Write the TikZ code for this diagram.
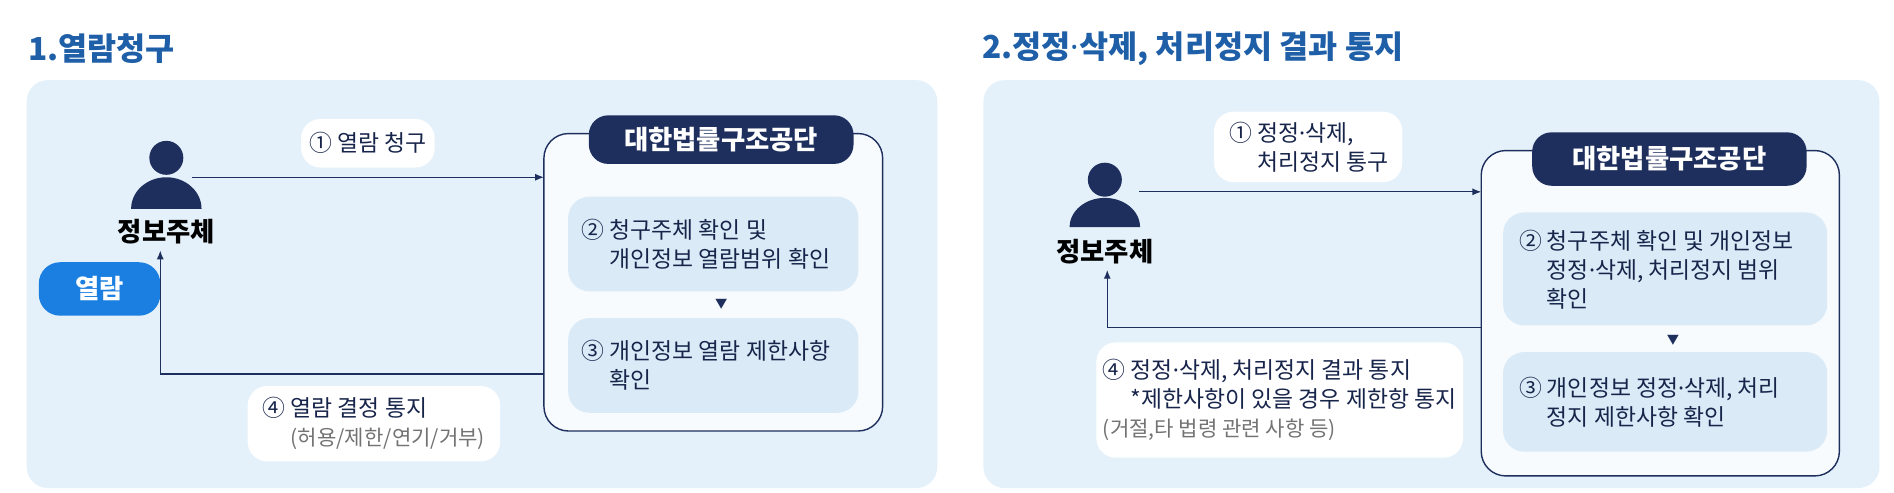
\documentclass[tikz,border=0pt]{standalone}
\usepackage{fontspec}
\setmainfont{Noto Sans CJK KR}
\newfontfamily\latinfont{Noto Sans}
\newcommand{\md}{{\latinfont ·}}
\usetikzlibrary{positioning,arrows.meta}
\definecolor{navy}{HTML}{1E2F5E}
\definecolor{panelbg}{HTML}{E4F1FA}
\definecolor{innerbg}{HTML}{DAEBF7}
\definecolor{titleblue}{HTML}{1F5FA8}
\definecolor{pillblue}{HTML}{1A7FE0}
\tikzset{
  panel/.style={fill=panelbg,draw=none,rounded corners=12pt},
  orgbox/.style={fill=white!75!panelbg,draw=navy,line width=0.8pt,rounded corners=14pt},
  header/.style={fill=navy,rounded corners=11pt,text=white,font=\fontsize{15}{18}\selectfont\bfseries},
  stepbox/.style={fill=innerbg,rounded corners=12pt},
  steptext/.style={anchor=west,align=left,text=navy!80!black,font=\fontsize{13}{16.5}\selectfont},
  pill/.style={fill=white,rounded corners=11pt},
  pilltext/.style={align=left,text=navy!80!black,font=\fontsize{13}{16.5}\selectfont},
  who/.style={text=black,font=\fontsize{15}{18}\selectfont\bfseries},
  flow/.style={draw=navy,line width=0.7pt,-{Latex[length=5pt,width=4pt]}},
  title/.style={anchor=west,text=titleblue,font=\fontsize{18}{22}\selectfont\bfseries},
}
\begin{document}
\begin{tikzpicture}[x=0.02428cm,y=-0.02428cm]
\useasboundingbox (0,0) rectangle (1560,406);

%% 1. 열람청구
\node[title] (t1) at (18,40) {1.열람청구};
\fill[panel] (22,66) rectangle (772,402);
% 정보주체
\fill[navy] (137,130) circle (14);
\fill[navy] (108,172) arc (180:360:29 and 26) -- cycle;
\coordinate (p1) at (158,146);
\node[who] (who1) at (137,191) {정보주체};
\node[fill=pillblue,rounded corners=12pt,minimum width=100*0.02428cm,minimum height=44*0.02428cm,
  text=white,font=\fontsize{15}{18}\selectfont\bfseries] (view) at (82,238) {열람};
% 대한법률구조공단
\draw[orgbox] (448,110) rectangle (727,355);
\coordinate (org1in) at (448,146);
\coordinate (org1out) at (448,308);
\node[header,minimum width=218*0.02428cm,minimum height=40*0.02428cm] (hd1) at (594,115) {대한법률구조공단};
\fill[stepbox] (468,162) rectangle (707,240);
\node[steptext] (s2a) at (474,201) {② 청구주체 확인 및\\\hphantom{② }개인정보 열람범위 확인};
\node[text=navy,font=\fontsize{7}{8}\selectfont] (tri1) at (594,251) {▼};
\fill[stepbox] (468,262) rectangle (707,340);
\node[steptext] (s3a) at (474,301) {③ 개인정보 열람 제한사항\\\hphantom{③ }확인};
% 연결
\draw[flow] (p1) -- (org1in);
\draw[flow] (org1out) -| (who1.south -| 132,0);
\fill[pill] (248,98) rectangle (358,138);
\node[pilltext] (l1a) at (303,118) {① 열람 청구};
\fill[pill] (204,318) rectangle (412,380);
\node[pilltext] (l4a) at (308,349) {④ 열람 결정 통지\\\hphantom{④ }{\color{gray!90!black}\fontsize{12}{15}\selectfont(허용/제한/연기/거부)}};

%% 2. 정정·삭제, 처리정지 결과 통지
\node[title] (t2) at (804,40) {2.정정\md 삭제, 처리정지 결과 통지};
\fill[panel] (810,66) rectangle (1548,402);
% 정보주체
\fill[navy] (910,148) circle (14);
\fill[navy] (881,187) arc (180:360:29 and 24) -- cycle;
\coordinate (p2) at (938,158);
\node[who] (who2) at (910,207) {정보주체};
% 대한법률구조공단
\draw[orgbox] (1220,124) rectangle (1515,392);
\coordinate (org2in) at (1220,158);
\coordinate (org2out) at (1220,270);
\node[header,minimum width=226*0.02428cm,minimum height=44*0.02428cm] (hd2) at (1375,131) {대한법률구조공단};
\fill[stepbox] (1238,175) rectangle (1505,268);
\node[steptext] (s2b) at (1246,222) {② 청구주체 확인 및 개인정보\\\hphantom{② }정정\md 삭제, 처리정지 범위\\\hphantom{② }확인};
\node[text=navy,font=\fontsize{7}{8}\selectfont] (tri2) at (1378,280) {▼};
\fill[stepbox] (1238,290) rectangle (1505,372);
\node[steptext] (s3b) at (1246,331) {③ 개인정보 정정\md 삭제, 처리\\\hphantom{③ }정지 제한사항 확인};
% 연결
\draw[flow] (p2) -- (org2in);
\draw[flow] (org2out) -| (who2.south -| 912,0);
\fill[pill] (1000,92) rectangle (1155,150);
\node[pilltext] (l1b) at (1078,121) {① 정정\md 삭제,\\\hphantom{① }처리정지 통구};
\fill[pill] (903,282) rectangle (1205,377);
\node[pilltext] (l4b) at (1054,329) {④ 정정\md 삭제, 처리정지 결과 통지\\\hphantom{④ }*제한사항이 있을 경우 제한항 통지\\{\color{gray!90!black}\fontsize{12}{15}\selectfont(거절,타 법령 관련 사항 등)}};
\end{tikzpicture}
\end{document}
